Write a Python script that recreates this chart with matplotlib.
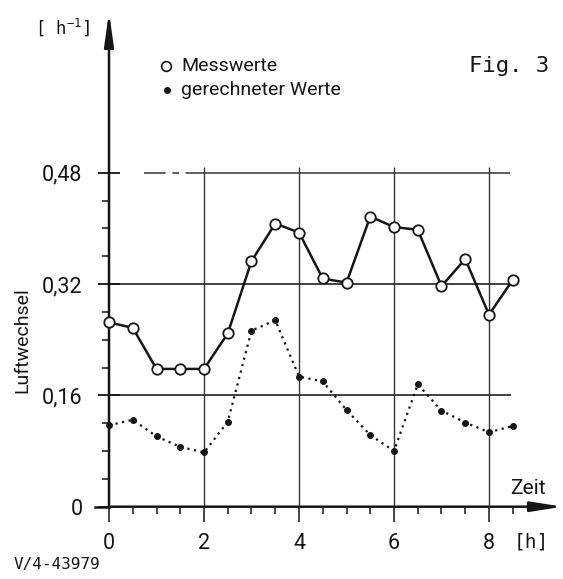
import numpy as np
import matplotlib
matplotlib.use("Agg")
from matplotlib import pyplot as plt

# Zeit [h]
zeit = [0, 0.5, 1, 1.5, 2, 2.5, 3, 3.5, 4, 4.5, 5, 5.5, 6, 6.5, 7, 7.5, 8, 8.5]
# Luftwechsel [1/h]
messwerte = [0.265, 0.257, 0.198, 0.198, 0.198, 0.249, 0.353, 0.407, 0.394,
             0.328, 0.322, 0.417, 0.402, 0.398, 0.317, 0.356, 0.276, 0.326]
gerechnet = [0.117, 0.125, 0.101, 0.086, 0.078, 0.122, 0.253, 0.268, 0.187,
             0.180, 0.139, 0.103, 0.080, 0.176, 0.138, 0.121, 0.107, 0.116]

y_major = [0, 0.16, 0.32, 0.48]
y_labels = ["0", "0,16", "0,32", "0,48"]
x_major = [0, 2, 4, 6, 8]

W, H = 563, 579
sans = "Roboto"
mono = "DejaVu Sans Mono"
ink = "#151515"
plt.rcParams["mathtext.fontset"] = "dejavusans"

fig = plt.figure(figsize=(W / 100, H / 100), dpi=100)
ax = fig.add_axes([109 / W, 1 - 506.7 / H, 9.55 * 47.5 / W, (506.7 - 12) / H])
ax.set_xlim(0, 9.55)
ax.set_ylim(0, 0.711)
for s in ax.spines.values():
    s.set_visible(False)

# grid
ax.hlines([0.16, 0.32], 0, [8.47, 8.5], color="#333333", lw=1.3, zorder=1)
ax.hlines(0.48, 0.73, 8.45, color="#444444", lw=1.2, zorder=1,
          linestyles=(0, (13, 4, 4, 4, 400, 0)))
ax.vlines(x_major[1:], 0, 0.488, color="#333333", lw=1.0, zorder=1)

# axes with arrows
ax.annotate("", xy=(1, 0), xycoords="axes fraction", xytext=(0, 0),
            arrowprops=dict(arrowstyle="-|>,head_length=1.9,head_width=0.3",
                            lw=1.8, color=ink, shrinkA=0, shrinkB=0))
ax.annotate("", xy=(0, 1), xycoords="axes fraction", xytext=(0, 0),
            arrowprops=dict(arrowstyle="-|>,head_length=2.0,head_width=0.28",
                            lw=1.8, color=ink, shrinkA=0, shrinkB=0))
ax.plot([-0.29, 0], [0, 0], color=ink, lw=1.8, clip_on=False)

# ticks
ax.set_yticks(y_major)
ax.set_yticklabels(y_labels)
ax.set_yticks(np.arange(0.04, 0.45, 0.04), minor=True)
ax.set_xticks(x_major)
ax.set_xticks(np.arange(0.5, 8.6, 0.5), minor=True)
ax.tick_params(axis="y", which="major", direction="inout", length=16, width=1.3,
               pad=11, labelsize=15.5, colors=ink)
ax.tick_params(axis="y", which="minor", direction="out", length=5, width=1.1, colors=ink)
ax.tick_params(axis="x", which="major", direction="out", length=11, width=1.1,
               pad=8, labelsize=15.5, colors=ink)
ax.tick_params(axis="x", which="minor", direction="out", length=5, width=1.1, colors=ink)
for lab in ax.get_xticklabels() + ax.get_yticklabels():
    lab.set_fontfamily(sans)

# data
ax.plot(zeit, messwerte, color=ink, lw=1.8, marker="o", ms=7.5, mfc="white",
        mec=ink, mew=1.3, zorder=4, clip_on=False)
ax.plot(zeit, gerechnet, color=ink, lw=1.6, ls=(0, (1, 2)), marker="o", ms=4,
        mfc=ink, mec=ink, zorder=3, clip_on=False)

# texts
def ftext(px, py, s, **kw):
    fig.text(px / W, 1 - py / H, s, color=ink, **kw)

ftext(63, 27, r"[ h$^{\mathregular{-1}}$]", family=mono, fontsize=12.5,
      ha="center", va="center")
ftext(22, 340, "Luftwechsel", family=sans, fontsize=14, rotation=90,
      ha="center", va="center")
ftext(528, 489, "Zeit", family=sans, fontsize=15, ha="center", va="center")
ftext(531, 542, "[h]", family=mono, fontsize=14, ha="center", va="center")
ftext(509, 66, "Fig. 3", family=mono, fontsize=16, ha="center", va="center")
ftext(14, 565, "V/4-43979", family=mono, fontsize=11.5, ha="left", va="center")

# legend
fig.lines.append(plt.Line2D([166 / W], [1 - 66 / H], marker="o", ms=7, mfc="white",
                            mec=ink, mew=1.2, transform=fig.transFigure))
fig.lines.append(plt.Line2D([167 / W], [1 - 90 / H], marker="o", ms=4, mfc=ink,
                            mec=ink, transform=fig.transFigure))
ftext(181, 66, "Messwerte", family=sans, fontsize=14, ha="left", va="center")
ftext(181, 90, "gerechneter Werte", family=sans, fontsize=14, ha="left", va="center")

fig.savefig("out.png", dpi=100)
